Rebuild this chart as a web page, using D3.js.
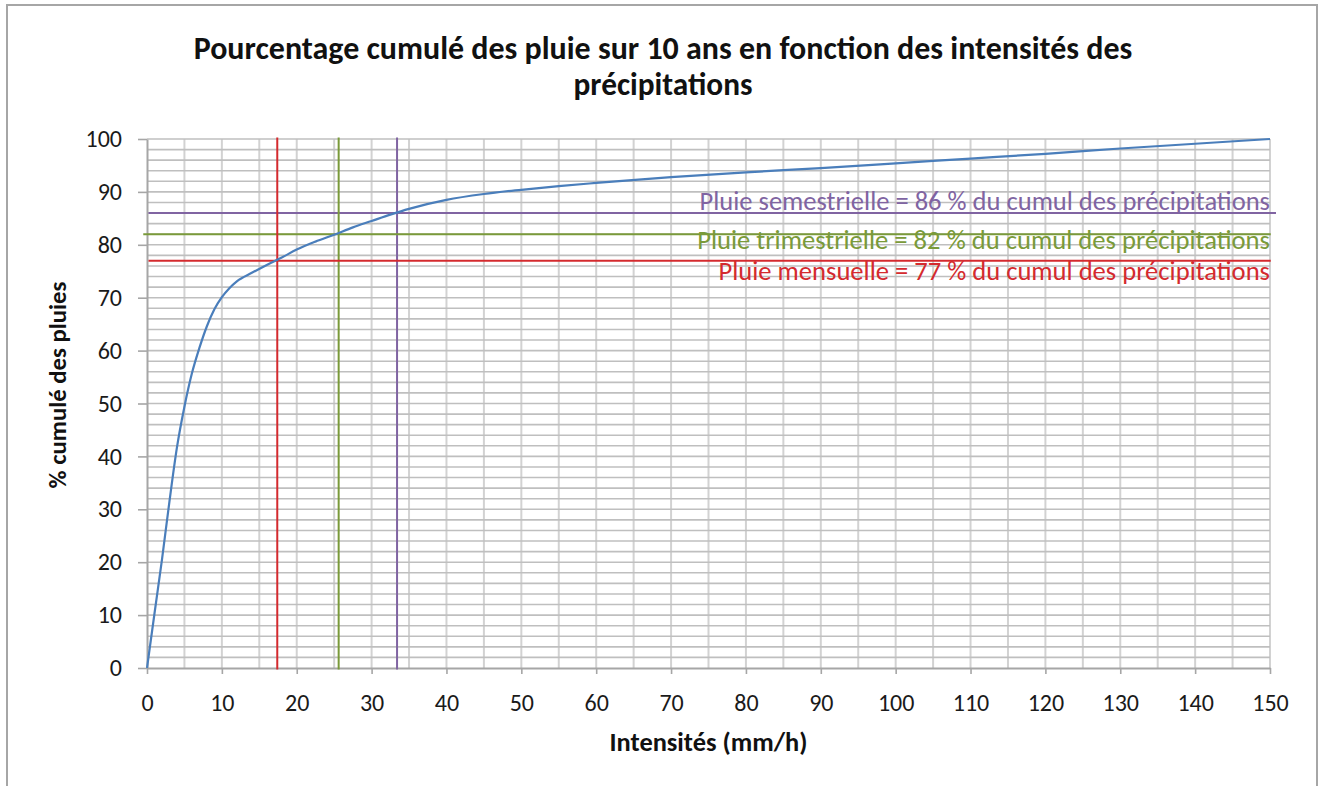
<!DOCTYPE html>
<html>
<head>
<meta charset="utf-8">
<script src="https://cdn.jsdelivr.net/npm/d3@7"></script>
<style>
  body { margin: 0; background: #fff; }
  svg text { font-family: Carlito, Calibri, Lato, "Open Sans", sans-serif; }
</style>
</head>
<body>
<script>
// chart data
const intensities = [0, 1, 2, 3, 4, 5, 6, 7, 8, 9, 10, 11, 12, 14, 16, 18, 20, 22.5, 25, 27.5, 30, 32.5, 35, 40, 45, 50, 55, 60, 70, 80, 90, 100, 110, 120, 130, 140, 150];
const cumulPct = [0, 10.3, 20.5, 31.5, 41.7, 49.4, 55.7, 60.5, 64.6, 67.8, 70.1, 71.8, 73.1, 74.7, 76.2, 77.6, 79.1, 80.6, 81.9, 83.3, 84.5, 85.7, 86.8, 88.5, 89.6, 90.4, 91.1, 91.7, 92.8, 93.7, 94.5, 95.4, 96.3, 97.2, 98.2, 99.1, 100];

const xTicks = [0, 10, 20, 30, 40, 50, 60, 70, 80, 90, 100, 110, 120, 130, 140, 150];
const yTicks = [0, 10, 20, 30, 40, 50, 60, 70, 80, 90, 100];

// reference lines: rain return period, percent, intensity
const refNames = ["Pluie semestrielle", "Pluie trimestrielle", "Pluie mensuelle"];
const refPct = [86, 82, 77];
const refIntensity = [33.4, 25.6, 17.4];
const refColors = ["#8064A2", "#7A9A3A", "#D42A2E"];

const titleLines = ["Pourcentage cumulé des pluie sur 10 ans en fonction des intensités des", "précipitations"];

const W = 1325, H = 786;
const margin = {left: 147, right: 55, top: 139, bottom: 118};

var svg = d3.select("body").append("svg")
    .attr("width", W)
    .attr("height", H);

// outer frame
svg.append("rect")
    .attr("x", 7).attr("y", 5)
    .attr("width", 1310).attr("height", 800)
    .attr("fill", "#fff")
    .attr("stroke", "#a6a6a6")
    .attr("stroke-width", 2);

var x = d3.scaleLinear([0, 150], [margin.left, W - margin.right]);
var y = d3.scaleLinear([0, 100], [H - margin.bottom, margin.top]);

// shrink/grow a text so it takes the width it has in the picture
function fitWidth(sel, target) {
    var size = parseFloat(sel.attr("font-size"));
    var w = sel.node().getComputedTextLength();
    sel.attr("font-size", size * target / w);
}

// vertical grid every 5
svg.append("g")
    .selectAll("line")
    .data(d3.range(5, 151, 5))
    .join("line")
    .attr("x1", d => x(d)).attr("x2", d => x(d))
    .attr("y1", y(100)).attr("y2", y(0))
    .attr("stroke", "#d2d2d2")
    .attr("stroke-width", 2);

// horizontal grid every 2
svg.append("g")
    .selectAll("line")
    .data(d3.range(2, 101, 2))
    .join("line")
    .attr("x1", x(0)).attr("x2", x(150))
    .attr("y1", d => y(d)).attr("y2", d => y(d))
    .attr("stroke", "#bfbfbf")
    .attr("stroke-width", 1.6);

// axes
var yAxis = svg.append("g")
    .attr("transform", `translate(${x(0)},0)`)
    .call(d3.axisLeft(y).tickValues(yTicks).tickSize(9).tickPadding(16).tickSizeOuter(0));
var xAxis = svg.append("g")
    .attr("transform", `translate(0,${y(0)})`)
    .call(d3.axisBottom(x).tickValues(xTicks).tickSize(6).tickPadding(20).tickSizeOuter(0));

[yAxis, xAxis].forEach(function(a) {
    a.select(".domain").attr("stroke", "#a6a6a6").attr("stroke-width", 2);
    a.selectAll(".tick line").attr("stroke", "#a6a6a6").attr("stroke-width", 1.6);
    a.selectAll(".tick text")
        .attr("fill", "#1a1a1a")
        .attr("font-size", 24)
        .style("font-family", "Carlito, Calibri, Lato, sans-serif");
});

// reference lines
refPct.forEach(function(p, i) {
    svg.append("line")
        .attr("x1", x(i == 1 ? -0.5 : 0.2)).attr("x2", x(i == 0 ? 150.8 : 150.1))
        .attr("y1", y(p)).attr("y2", y(p))
        .attr("stroke", refColors[i])
        .attr("stroke-width", 2);
    svg.append("line")
        .attr("x1", x(refIntensity[i])).attr("x2", x(refIntensity[i]))
        .attr("y1", y(100.3)).attr("y2", y(-0.3))
        .attr("stroke", refColors[i])
        .attr("stroke-width", 2);
});

// cumulative curve
var pts = intensities.map((d, i) => [d, cumulPct[i]]);
svg.append("path")
    .datum(pts)
    .attr("fill", "none")
    .attr("stroke", "#4A7EBB")
    .attr("stroke-width", 2.2)
    .attr("d", d3.line().x(d => x(d[0])).y(d => y(d[1])).curve(d3.curveMonotoneX));

// labels for reference lines
var labelWidths = [571, 573, 552];
var labelDy = [-3, 15, 19];
refPct.forEach(function(p, i) {
    var t = svg.append("text")
        .attr("x", x(150))
        .attr("y", y(p) + labelDy[i])
        .attr("text-anchor", "end")
        .attr("font-size", 22)
        .attr("fill", refColors[i])
        .text(`${refNames[i]} = ${p} % du cumul des précipitations`);
    fitWidth(t, labelWidths[i]);
});

// title
var t1 = svg.append("text")
    .attr("x", 663).attr("y", 59)
    .attr("text-anchor", "middle")
    .attr("font-size", 26).attr("font-weight", "bold")
    .attr("fill", "#111")
    .text(titleLines[0]);
fitWidth(t1, 939);
var t2 = svg.append("text")
    .attr("x", 663).attr("y", 95)
    .attr("text-anchor", "middle")
    .attr("font-size", 26).attr("font-weight", "bold")
    .attr("fill", "#111")
    .text(titleLines[1]);
fitWidth(t2, 179);

// axis titles
var xt = svg.append("text")
    .attr("x", (x(0) + x(150)) / 2).attr("y", 751)
    .attr("text-anchor", "middle")
    .attr("font-size", 20).attr("font-weight", "bold")
    .attr("fill", "#111")
    .text("Intensités (mm/h)");
fitWidth(xt, 198);

var yt = svg.append("text")
    .attr("transform", "translate(66,385) rotate(-90)")
    .attr("text-anchor", "middle")
    .attr("font-size", 20).attr("font-weight", "bold")
    .attr("fill", "#111")
    .text("% cumulé des pluies");
fitWidth(yt, 207);
</script>
</body>
</html>
